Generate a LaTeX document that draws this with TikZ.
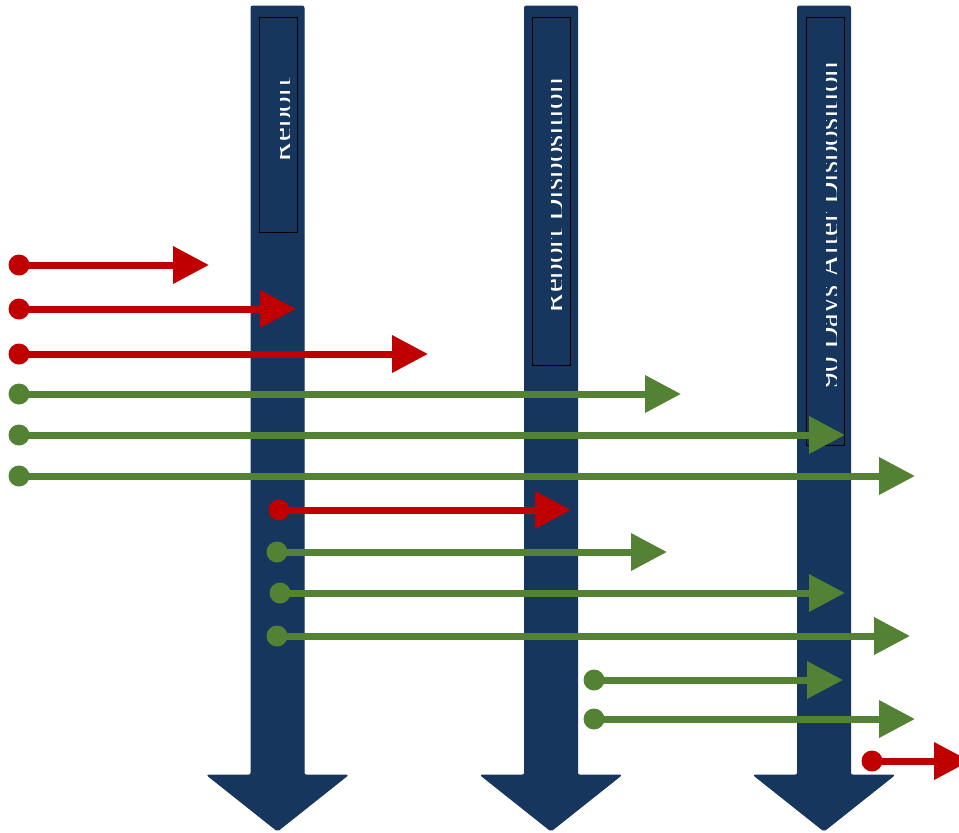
\documentclass[tikz,border=0pt]{standalone}
\usepackage{fontspec}
\setmainfont{Liberation Serif}
\usetikzlibrary{arrows.meta}
\definecolor{navy}{HTML}{17365D}
\definecolor{redc}{HTML}{C00000}
\definecolor{greenc}{HTML}{548235}
\tikzset{
  bigarrow/.style={fill=navy, draw=navy, line width=1pt, rounded corners=2pt},
  labelbox/.style={draw=black, fill=navy, line width=0.8pt, minimum width=38pt, inner sep=0pt},
  labeltext/.style={rotate=90, anchor=base, text=white, inner sep=0pt, font=\fontsize{31}{37}\selectfont},
  dotnode/.style={circle, fill=#1, minimum size=21pt, inner sep=0pt},
  harrow/.style={draw=#1, line width=7pt, -{Triangle[length=36pt,width=36pt]}}
}
\begin{document}
\begin{tikzpicture}[x=1pt,y=-1pt]
\clip (0,0) rectangle (959,833);
\fill[white] (0,0) rectangle (959,833);
% big vertical arrows
\foreach \c/\n in {277.5/A,551/B,824/C}{
  \draw[bigarrow] (\c-26.5,775) -- (\c-26.5,6) -- (\c+26.5,6) -- (\c+26.5,775)
    -- (\c+70.5,775) -- (\c,831) -- (\c-70.5,775) -- cycle;
}
% label boxes
\node[labelbox, minimum height=215pt] (b1) at (278,124.5) {};
\node[labelbox, minimum height=348pt] (b2) at (551,191) {};
\node[labelbox, minimum height=428pt] (b3) at (825.5,231) {};
\begin{scope}
\clip (280,17) rectangle (289.5,232);
\node[labeltext] (t1) at (291.5,120) {Report};
\end{scope}
\begin{scope}
\clip (551,17) rectangle (561,365);
\node[labeltext] (t2) at (563,196) {Report Disposition};
\end{scope}
\begin{scope}
\clip (826,17) rectangle (836,445);
\node[labeltext] (t3) at (838,225) {90 Days After Disposition};
\end{scope}
% horizontal arrows
\foreach \n/\xs/\xe/\y/\col in {
  h1/19/209/265/redc,
  h2/19/296/309/redc,
  h3/19/428/354/redc,
  h4/19/681/394/greenc,
  h5/19/845/435/greenc,
  h6/19/915/476/greenc,
  h7/279/571/510/redc,
  h8/277/667/552/greenc,
  h9/280/845/593/greenc,
  h10/277/910/636/greenc,
  h11/594/843/680/greenc,
  h12/594/915/719/greenc,
  h13/872/970/761/redc}{
  \node[dotnode=\col] (\n s) at (\xs,\y) {};
  \coordinate (\n e) at (\xe,\y);
  \draw[harrow=\col] (\n s.center) -- (\n e);
}
\end{tikzpicture}
\end{document}
